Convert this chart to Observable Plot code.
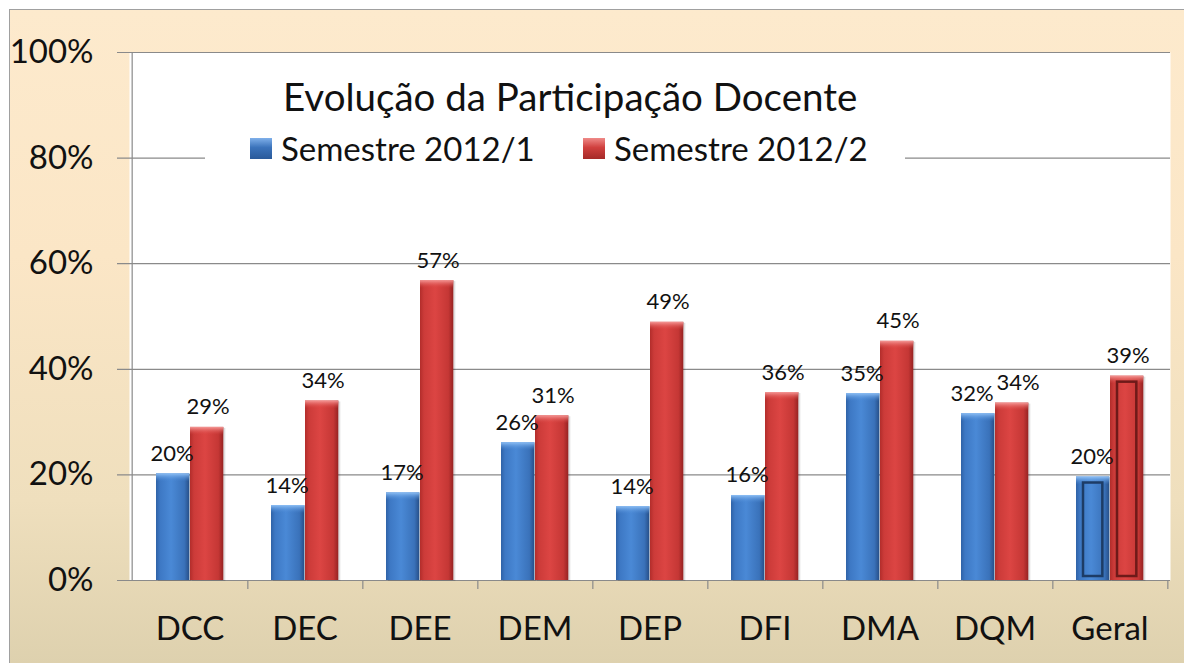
<!DOCTYPE html>
<html><head><meta charset="utf-8">
<script src="https://cdn.jsdelivr.net/npm/d3@7"></script>
<script src="https://cdn.jsdelivr.net/npm/@observablehq/plot@0.6"></script>
<style>
body{margin:0;background:#fff;font-family:Lato,"Open Sans",sans-serif;}
#wrap{position:relative;width:1184px;height:663px;overflow:hidden;}
#bg{position:absolute;left:9px;top:9px;width:1200px;height:700px;border-left:1px solid #a0a0a0;border-top:1px solid #a0a0a0;
 background:linear-gradient(180deg,#fdeacd 0%,#fbe6c6 35%,#efdfbd 70%,#d9cdaa 100%);}
#chart{position:absolute;left:0;top:0;}
#title{position:absolute;left:283px;top:73px;font-size:38.5px;color:#111;white-space:nowrap;}
#legend{position:absolute;left:205px;top:128px;width:700px;height:40px;background:#fff;}
.li{position:absolute;top:0;font-size:33px;color:#111;white-space:nowrap;display:flex;align-items:center;}
.sw{display:inline-block;width:22px;height:21px;margin-right:9px;}
</style></head>
<body>
<div id="wrap">
<div id="bg"></div>
<div id="chart"></div>
<div id="title">Evolução da Participação Docente</div>
<div id="legend">
 <div class="li" style="left:45px"><span class="sw" style="background:linear-gradient(180deg,#7fb0ea,#3b73bb 45%,#2a5a9a)"></span>Semestre 2012/1</div>
 <div class="li" style="left:378px"><span class="sw" style="background:linear-gradient(180deg,#ef8a88,#d0403e 45%,#a52a28)"></span>Semestre 2012/2</div>
</div>
</div>
<script>
const categories = ["DCC","DEC","DEE","DEM","DEP","DFI","DMA","DQM","Geral"];
const sem1 = [20.2,14.2,16.6,26.1,14.0,16.1,35.4,31.6,19.6];
const sem2 = [29.0,34.0,56.8,31.2,48.9,35.6,45.3,33.6,38.7];
const seriesNames = ["Semestre 2012/1","Semestre 2012/2"];
const yTicks = [0,20,40,60,80,100];

const rows1 = categories.map((c,i)=>({cat:c, v:sem1[i], s:seriesNames[0], close: Math.abs(sem1[i]-sem2[i]) < 4}));
const rows2 = categories.map((c,i)=>({cat:c, v:sem2[i], s:seriesNames[1], close: Math.abs(sem1[i]-sem2[i]) < 4}));

const W = 1184, H = 663, mL = 129, mR = 14, mT = 52, mB = 83;
const bw = (W - mL - mR) / categories.length;
const barW = 34, leftGap = 24;
const b1 = {insetLeft: leftGap, insetRight: bw - leftGap - barW};
const b2 = {insetLeft: leftGap + barW, insetRight: bw - leftGap - 2*barW};
const c1 = leftGap + barW/2 - bw/2, c2 = leftGap + 1.5*barW - bw/2;
const font = "Lato, 'Open Sans', sans-serif";
const lbl = {x: "cat", y: "v", text: d => Math.round(d.v) + "%", dy: -13, lineAnchor: "bottom", fontSize: 22, fill: "#111"};

const plot = Plot.plot({
  width: W, height: H,
  marginLeft: mL, marginRight: mR, marginTop: mT, marginBottom: mB,
  style: {background: "transparent", fontFamily: font, color: "#111"},
  x: {type: "band", domain: categories, padding: 0, label: null},
  y: {domain: [0, 100], label: null},
  marks: [
    Plot.frame({fill: "white", stroke: "none"}),
    Plot.ruleY(yTicks, {stroke: "#8a8a8a", strokeWidth: 1.2, insetLeft: -12}),
    Plot.ruleX([categories[0]], {dx: -bw/2, stroke: "#8a8a8a", strokeWidth: 1.2}),
    Plot.ruleX(categories, {dx: bw/2, stroke: "#8a8a8a", strokeWidth: 1.2, insetTop: H - mT - mB, insetBottom: -9}),
    // shadows
    Plot.barY(rows1, {x: "cat", y: "v", fill: "#000", fillOpacity: 0.12, ...b1, dx: 2, dy: 1}),
    Plot.barY(rows2, {x: "cat", y: "v", fill: "#000", fillOpacity: 0.12, ...b2, dx: 2, dy: 1}),
    Plot.barY(rows1, {x: "cat", y: "v", fill: "url(#gBlue)", ...b1}),
    Plot.barY(rows2, {x: "cat", y: "v", fill: "url(#gRed)", ...b2}),
    // top bevels
    Plot.barY(rows1, {x: "cat", y1: "v", y2: "v", fill: "url(#gBlueTop)", ...b1, insetBottom: -8}),
    Plot.barY(rows2, {x: "cat", y1: "v", y2: "v", fill: "url(#gRedTop)", ...b2, insetBottom: -8}),
    // Geral inner outline
    Plot.barY(rows1.filter(d => d.cat === "Geral"), {x: "cat", y: "v", fill: "none", stroke: "#1d3c66", strokeWidth: 2.5,
      insetLeft: b1.insetLeft + 7, insetRight: b1.insetRight + 7, insetTop: 6, insetBottom: 4}),
    Plot.barY(rows2.filter(d => d.cat === "Geral"), {x: "cat", y: "v", fill: "none", stroke: "#6e1a19", strokeWidth: 2.5,
      insetLeft: b2.insetLeft + 7, insetRight: b2.insetRight + 7, insetTop: 6, insetBottom: 4}),
    // labels
    Plot.text(rows1.filter(d => !d.close), {...lbl, dx: c1 - 1}),
    Plot.text(rows2.filter(d => !d.close), {...lbl, dx: c2 + 1}),
    Plot.text(rows1.filter(d => d.close), {...lbl, dx: c1 - 6}),
    Plot.text(rows2.filter(d => d.close), {...lbl, dx: c2 + 6}),
    Plot.axisY({ticks: yTicks, tickSize: 0, tickPadding: 36, tickFormat: d => d + "%", fontSize: 33, label: null}),
    Plot.axisX({tickSize: 0, tickPadding: 36, fontSize: 33, label: null})
  ]
});

const defs = `
<linearGradient id="gBlue" x1="0" x2="1" y1="0" y2="0">
 <stop offset="0" stop-color="#2f62a6"/><stop offset="0.12" stop-color="#3d78c4"/>
 <stop offset="0.45" stop-color="#4a89d6"/><stop offset="0.85" stop-color="#3a72ba"/><stop offset="1" stop-color="#264f88"/>
</linearGradient>
<linearGradient id="gRed" x1="0" x2="1" y1="0" y2="0">
 <stop offset="0" stop-color="#b22d2b"/><stop offset="0.12" stop-color="#cc3b39"/>
 <stop offset="0.45" stop-color="#dc4543"/><stop offset="0.85" stop-color="#c53735"/><stop offset="1" stop-color="#962322"/>
</linearGradient>
<linearGradient id="gBlueTop" x1="0" x2="0" y1="0" y2="1">
 <stop offset="0" stop-color="#8fc0f5"/><stop offset="1" stop-color="#4a89d6" stop-opacity="0"/>
</linearGradient>
<linearGradient id="gRedTop" x1="0" x2="0" y1="0" y2="1">
 <stop offset="0" stop-color="#f59a98"/><stop offset="1" stop-color="#dc4543" stop-opacity="0"/>
</linearGradient>`;
const ns = "http://www.w3.org/2000/svg";
const d = document.createElementNS(ns, "defs");
d.innerHTML = defs;
plot.insertBefore(d, plot.firstChild);
document.getElementById("chart").appendChild(plot);
</script>
</body></html>
